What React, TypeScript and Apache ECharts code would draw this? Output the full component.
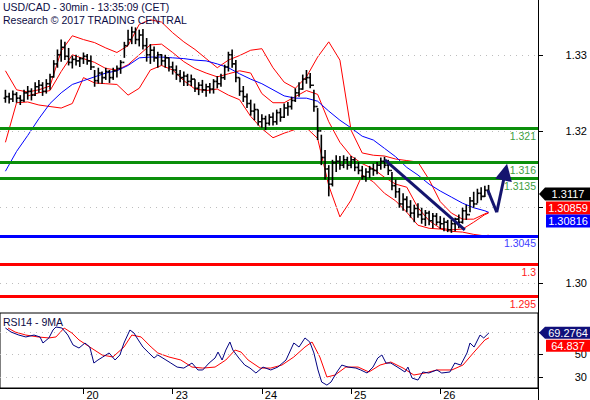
import React, { useEffect, useRef } from "react";
import * as echarts from "echarts";

const FONT = "'Liberation Sans', Arial, Helvetica, sans-serif";

// ---- Axis / ticks (x = hours from Oct 20 00:00, weekend removed) ----
const xMin = -22.46;
const xMax = 122.3;
const dayTicks = [0, 24, 48, 72, 96];
const dayLabels = ["20", "23", "24", "25", "26"];
const priceTicks = [1.3, 1.31, 1.32, 1.33];
const priceLabelTicks = [1.3, 1.32, 1.33]; // 1.31 sits under the value boxes
const rsiTicks = [30, 50, 70];
const rsiLabelTicks = [30, 50]; // 70 sits under the RSI value box

// ---- Hourly bars (first bar at hour -21) ----
const firstBarHour = -21;
const firstOpen = 1.3243;
const lows = [
  1.3237, 1.3236, 1.3238, 1.3237, 1.3234, 1.3238, 1.3241, 1.324, 1.3246, 1.325,
  1.3246, 1.3249, 1.3254, 1.327, 1.3283, 1.3291, 1.3293, 1.3286, 1.3282, 1.3286,
  1.3284, 1.3288, 1.3287, 1.328, 1.3258, 1.3262, 1.3262, 1.3267, 1.3263, 1.3267,
  1.327, 1.3275, 1.3296, 1.3313, 1.3314, 1.3314, 1.3311, 1.3307, 1.3291, 1.3288,
  1.3291, 1.3283, 1.3286, 1.3283, 1.3278, 1.3274, 1.3267, 1.3264, 1.3259, 1.3259,
  1.3259, 1.3251, 1.3247, 1.325, 1.3245, 1.3249, 1.3249, 1.3256, 1.3258, 1.3267,
  1.3278, 1.3283, 1.3264, 1.3246, 1.3238, 1.323, 1.322, 1.3214, 1.3207, 1.3204,
  1.3201, 1.3207, 1.3207, 1.3208, 1.3212, 1.3217, 1.322, 1.3228, 1.3238, 1.3245,
  1.3254, 1.3262, 1.3256, 1.3225, 1.3188, 1.3155, 1.3136, 1.3114, 1.3127, 1.3146,
  1.3149, 1.3151, 1.3149, 1.3151, 1.3147, 1.3143, 1.3136, 1.3133, 1.3138, 1.3141,
  1.3143, 1.3149, 1.3151, 1.3142, 1.3122, 1.3112, 1.3099, 1.3095, 1.3093, 1.3086,
  1.308, 1.3086, 1.3078, 1.3075, 1.3076, 1.3072, 1.3076, 1.3071, 1.3068, 1.3067,
  1.3066, 1.3068, 1.3072, 1.3078, 1.3083, 1.3093, 1.3099, 1.3105, 1.3109, 1.3113,
  1.3116,
];
const highs = [
  1.3254, 1.325, 1.3253, 1.3251, 1.3247, 1.3254, 1.3259, 1.3256, 1.3264, 1.3267,
  1.3264, 1.3268, 1.3275, 1.3293, 1.3307, 1.332, 1.3317, 1.3309, 1.3299, 1.33,
  1.3297, 1.3303, 1.3301, 1.3299, 1.328, 1.3283, 1.3278, 1.3283, 1.328, 1.3283,
  1.3286, 1.3293, 1.3317, 1.3333, 1.3337, 1.3336, 1.3333, 1.3334, 1.3322, 1.3314,
  1.3311, 1.3304, 1.3301, 1.33, 1.3296, 1.3291, 1.3286, 1.328, 1.3278, 1.3275,
  1.3274, 1.3268, 1.3264, 1.3267, 1.3262, 1.3263, 1.3268, 1.3272, 1.3275, 1.3287,
  1.3304, 1.3307, 1.3293, 1.327, 1.3259, 1.3249, 1.3241, 1.3236, 1.3228, 1.3222,
  1.322, 1.3222, 1.3224, 1.3228, 1.323, 1.3236, 1.3238, 1.3245, 1.3256, 1.3264,
  1.3274, 1.328, 1.3276, 1.3254, 1.323, 1.3195, 1.3175, 1.3155, 1.3162, 1.3168,
  1.3167, 1.3168, 1.3166, 1.3167, 1.3165, 1.3159, 1.3154, 1.3151, 1.3154, 1.3157,
  1.3159, 1.3165, 1.3166, 1.3162, 1.3146, 1.3136, 1.3125, 1.3118, 1.3114, 1.3109,
  1.3103, 1.3105, 1.3099, 1.3096, 1.3095, 1.3092, 1.3092, 1.3088, 1.3086, 1.3083,
  1.3083, 1.3086, 1.309, 1.3099, 1.3103, 1.3113, 1.312, 1.3124, 1.3126, 1.3128,
  1.3129,
];
const closes = [
  1.3245, 1.3242, 1.3248, 1.3243, 1.324, 1.325, 1.3252, 1.3247, 1.3258, 1.326,
  1.3252, 1.3262, 1.3271, 1.3288, 1.33, 1.331, 1.3298, 1.329, 1.3294, 1.3292,
  1.3295, 1.3298, 1.3292, 1.3284, 1.3266, 1.3276, 1.327, 1.3278, 1.327, 1.3279,
  1.3282, 1.329, 1.3312, 1.332, 1.333, 1.332, 1.3326, 1.3312, 1.33, 1.3306,
  1.3296, 1.33, 1.3292, 1.3296, 1.3284, 1.328, 1.3274, 1.327, 1.3272, 1.3265,
  1.3268, 1.3256, 1.326, 1.3254, 1.3258, 1.3255, 1.3265, 1.3262, 1.327, 1.3284,
  1.33, 1.3288, 1.327, 1.3252, 1.3245, 1.3236, 1.3226, 1.3228, 1.3212, 1.3216,
  1.321, 1.3218, 1.3212, 1.3224, 1.3218, 1.323, 1.3232, 1.324, 1.325, 1.3255,
  1.3268, 1.327, 1.326, 1.3232, 1.32, 1.3165, 1.315, 1.313, 1.3158, 1.316,
  1.3155, 1.3162, 1.3155, 1.3162, 1.3152, 1.3148, 1.314, 1.3146, 1.315, 1.3148,
  1.3155, 1.316, 1.3155, 1.3148, 1.3128, 1.312, 1.3104, 1.311, 1.31, 1.3092,
  1.3098, 1.309, 1.3084, 1.3092, 1.3082, 1.3088, 1.308, 1.3078, 1.308, 1.307,
  1.3078, 1.3084, 1.308, 1.3095, 1.309, 1.3108, 1.3104, 1.3118, 1.3114, 1.3122,
  1.3117,
];

// ---- Indicator lines sampled every 3 hours ----
const bandHours = [
  -21, -18, -15, -12, -9, -6, -3, 0, 3, 6, 9, 12, 15, 18, 21, 24, 27, 30, 33, 36,
  39, 42, 45, 48, 51, 54, 57, 60, 63, 66, 69, 72, 75, 78, 81, 84, 87, 90, 93, 96,
  99, 102, 105, 108, 109,
];
const bbUpper = [
  1.3279, 1.3254, 1.3251, 1.3254, 1.3259, 1.3305, 1.3325, 1.332, 1.3316, 1.3309,
  1.3303, 1.3312, 1.334, 1.3346, 1.3343, 1.3329, 1.3317, 1.3307, 1.3295, 1.3283,
  1.3293, 1.3299, 1.3306, 1.3308, 1.3283, 1.3264, 1.3256, 1.3271, 1.3297, 1.3317,
  1.3293, 1.3201, 1.3171, 1.3168, 1.3167, 1.3163, 1.3161, 1.3159, 1.3136, 1.3107,
  1.3092, 1.3084, 1.3084, 1.3091, 1.3093,
];
const bbMiddle = [
  null, null, 1.3246, 1.325, 1.3253, 1.3278, 1.33, 1.3295, 1.329, 1.3282,
  1.328, 1.3287, 1.33, 1.3313, 1.3314, 1.3303, 1.3291, 1.3282, 1.3276, 1.3271,
  1.3275, 1.3279, 1.3276, 1.3249, 1.3237, 1.3237, 1.3245, 1.3253, 1.3248, 1.3212,
  1.3185, 1.3167, 1.3157, 1.315, 1.3139, 1.313, 1.3126, 1.3099, 1.3082, 1.3072,
  1.307, 1.3071, 1.308, 1.309, 1.3092,
];
const bbLower = [
  1.3185, 1.3237, 1.3238, 1.3234, 1.3232, 1.323, 1.3236, 1.327, 1.3263, 1.3262,
  1.3261, 1.3247, 1.3256, 1.328, 1.3286, 1.328, 1.3266, 1.3255, 1.3253, 1.3255,
  1.3247, 1.3241, 1.3219, 1.3203, 1.3191, 1.3197, 1.3202, 1.3204, 1.319, 1.3128,
  1.3087, 1.3109, 1.3142, 1.3133, 1.3118, 1.3108, 1.3093, 1.3076, 1.3072, 1.3071,
  1.3068, 1.3067, 1.3064, 1.3062, 1.3063,
];
const maBlue = [
  1.3147, 1.3173, 1.3194, 1.3216, 1.3236, 1.325, 1.3261, 1.3266, 1.3271, 1.3276,
  1.3279, 1.3286, 1.3296, 1.3297, 1.3297, 1.3296, 1.3295, 1.3293, 1.3292, 1.3288,
  1.3283, 1.3275, 1.3268, 1.3262, 1.3254, 1.3246, 1.3243, 1.3243, 1.3239, 1.3226,
  1.3214, 1.3204, 1.3193, 1.3188, 1.3177, 1.3166, 1.3152, 1.3142, 1.313, 1.3121,
  1.3113, 1.3105, 1.3099, 1.3095, 1.3093,
];

// ---- Support / resistance levels (drawn value, printed label) ----
const levelValues = [1.3203, 1.3159, 1.3138, 1.3062, 1.3025, 1.2983];
const levelLabels = ["1.321", "1.316", "1.3135", "1.3045", "1.3", "1.295"];
const levelKinds = ["green", "green", "green", "blue", "red", "red"];

// ---- Drawn annotations ----
const trendLine = [
  [81.1, 1.3162],
  [102.6, 1.307],
];
const forecastPath = [
  [108.8, 1.3122],
  [111.2, 1.3093],
  [113.5, 1.3146],
];

// ---- Last values ----
const lastPrice = 1.3117;
const lastBandMid = 1.30859;
const lastMaBlue = 1.30816;
const lastRsi = 69.2764;
const lastRsiMa = 64.837;

// ---- RSI panel ----
const rsiHours = [
  -21, -19.5, -17.4, -15.5, -13.3, -11.7, -10.9, -9.3, -8.2, -7.4, -5.8, -4.2, -2.8,
  -1.2, 0.4, 1.7, 2.8, 3.9, 5.2, 6.9, 8.5, 9.8, 10.9, 12.5, 13.6, 14.4, 16, 17.6,
  19, 20, 22.2, 23.5, 25.2, 27, 29.2, 30.8, 32.1, 33.8, 35.4, 36.2, 37.3, 38.3,
  39.4, 40.2, 41.8, 43.4, 44.8, 46.4, 48.3, 50.4, 52.3, 54.5, 56.6, 58, 59.6,
  60.9, 62, 63.1, 64.1, 65.5, 66.6, 68.2, 69.5, 71.2, 73.3, 74.6, 76.3, 77.9,
  79.2, 80.3, 81.4, 82.7, 84.9, 86.5, 87.3, 88.4, 90, 91.3, 92.9, 95.1, 96.4,
  98.6, 99.9, 101.5, 103.2, 104, 105.1, 106.7, 107.7, 109.1,
];
const rsiValues = [
  73.6, 70, 67.3, 65.6, 67.3, 65.6, 60.2, 64.7, 71.8, 74.5, 73.6, 67.3, 58.4,
  55.7, 60.2, 56.6, 42.3, 45, 47.7, 51.3, 45, 49.5, 60.2, 71.8, 69.1, 64.7, 56.6,
  51.3, 46.8, 49.5, 45, 42.3, 38.7, 37.8, 42.3, 36.1, 36.1, 42.3, 46.8, 52.1, 45,
  53.9, 61.1, 53.9, 46.8, 40.5, 37.8, 33.4, 38.7, 36.1, 38.7, 45, 60.2, 56.6,
  64.7, 61.1, 51.3, 36.1, 25.3, 22.6, 25.3, 34.3, 40.5, 38.7, 37.8, 36.1, 33.4,
  38.7, 46.8, 49.5, 42.3, 42.3, 37.8, 34.3, 38.7, 28.9, 27.1, 34.3, 33.4, 36.1,
  33.4, 34.3, 42.3, 40.5, 51.3, 60.2, 56.6, 67.3, 64.7, 69.2764,
];
const rsiMaHours = [
  -20.3, -18.4, -15.5, -12.2, -9.3, -7.4, -5.2, -3.1, -1.2, 1.7, 5, 7.9, 10.9, 13,
  15.5, 18.2, 20, 23, 26.2, 29.2, 32.1, 35.4, 38.3, 40.8, 42.4, 44.3, 47.5, 50.4,
  53.4, 56.6, 59.6, 61.5, 63.6, 65.5, 67.7, 70.6, 73.9, 76.8, 79.8, 82.7, 86,
  88.9, 91.9, 95.1, 99.1, 102.1, 105.1, 108, 109.1,
];
const rsiMaValues = [
  73.6, 70, 67.3, 65.6, 64.7, 65.6, 73.6, 69.1, 62.9, 56.6, 49.5, 47.7, 56.6, 67.3,
  65.6, 56.6, 51.3, 47.7, 45, 38.7, 37.8, 38.7, 45, 53.9, 52.1, 45, 37.8, 37.8,
  40.5, 47.7, 56.6, 61.1, 47.7, 29.8, 31.6, 38.7, 38.7, 34.3, 40.5, 43.2, 37.8,
  31.6, 33.4, 36.1, 36.1, 40.5, 52.1, 62.9, 64.837,
];

const NAVY = "#14146e";
const TEXT = "#0b0b45";
const levelColors: Record<string, { line: string; text: string }> = {
  green: { line: "#0a8f0a", text: "#3e9e3e" },
  blue: { line: "#0000ff", text: "#4040ff" },
  red: { line: "#ff0000", text: "#ff2020" },
};

function zip(xs: number[], ys: (number | null)[]) {
  const out: number[][] = [];
  xs.forEach((x, i) => {
    const y = ys[i];
    if (y !== null && y !== undefined) out.push([x, y]);
  });
  return out;
}

function buildOption() {
  const barRows = lows.map((lo, i) => {
    const open = i === 0 ? firstOpen : closes[i - 1];
    return [firstBarHour + i, open, closes[i], lo, highs[i]];
  });

  const axisLabelBase = { color: "#000", fontSize: 11, fontFamily: FONT };

  return {
    animation: false,
    backgroundColor: "#ffffff",
    textStyle: { fontFamily: FONT },
    grid: [
      { left: 0, right: 52, top: 0, height: 312, show: false },
      {
        left: 0,
        right: 52,
        top: 313,
        height: 75,
        show: true,
        borderColor: "#000",
        borderWidth: 1,
        backgroundColor: "transparent",
      },
    ],
    xAxis: [
      { gridIndex: 0, type: "value", min: xMin, max: xMax, show: false },
      {
        gridIndex: 1,
        type: "value",
        min: xMin,
        max: xMax,
        axisLine: { show: true, onZero: false, lineStyle: { color: "#000", width: 1 } },
        axisTick: { show: true, customValues: dayTicks, length: 6, lineStyle: { color: "#000" } },
        axisLabel: {
          ...axisLabelBase,
          customValues: dayTicks,
          formatter: (v: number) => dayLabels[dayTicks.indexOf(v)] ?? "",
          align: "left",
          padding: [0, 0, 0, 3],
          margin: 1,
        },
        splitLine: { show: false },
      },
    ],
    yAxis: [
      {
        gridIndex: 0,
        type: "value",
        position: "right",
        min: 1.2962,
        max: 1.3372,
        axisLine: { show: true, onZero: false, lineStyle: { color: "#000" } },
        axisTick: { show: true, customValues: priceTicks, length: 5, lineStyle: { color: "#000" } },
        axisLabel: {
          ...axisLabelBase,
          customValues: priceLabelTicks,
          formatter: (v: number) => v.toFixed(2),
          align: "right",
          margin: 49,
        },
        splitLine: { show: false },
      },
      {
        gridIndex: 1,
        type: "value",
        position: "right",
        min: 20,
        max: 87,
        axisLine: { show: true, onZero: false, lineStyle: { color: "#000" } },
        axisTick: { show: true, customValues: rsiTicks, length: 5, lineStyle: { color: "#000" } },
        axisLabel: {
          ...axisLabelBase,
          customValues: rsiLabelTicks,
          formatter: (v: number) => String(v),
          align: "right",
          margin: 49,
        },
        splitLine: { show: false },
      },
    ],
    series: [
      {
        type: "line",
        xAxisIndex: 0,
        yAxisIndex: 0,
        data: [],
        silent: true,
        markLine: {
          silent: true,
          precision: 6,
          symbol: ["none", "none"],
          label: { show: false },
          lineStyle: { color: "#bdbdbd", type: [1, 5], width: 1 },
          data: priceTicks.map((v) => ({ yAxis: v })),
        },
      },
      {
        type: "line",
        xAxisIndex: 1,
        yAxisIndex: 1,
        data: [],
        silent: true,
        markLine: {
          silent: true,
          precision: 6,
          symbol: ["none", "none"],
          label: { show: false },
          lineStyle: { color: "#bdbdbd", type: [1, 5], width: 1 },
          data: rsiTicks.map((v) => ({ yAxis: v })),
        },
      },
      {
        type: "line",
        xAxisIndex: 0,
        yAxisIndex: 0,
        data: [],
        silent: true,
        z: 3,
        markLine: {
          silent: true,
          precision: 6,
          symbol: ["none", "none"],
          data: levelValues.map((v, i) => ({
            yAxis: v,
            lineStyle: { color: levelColors[levelKinds[i]].line, width: 3, type: "solid" },
            label: {
              show: true,
              formatter: levelLabels[i],
              position: "insideEndBottom",
              distance: [2, 2],
              color: levelColors[levelKinds[i]].text,
              fontSize: 10.5,
              fontFamily: FONT,
            },
          })),
        },
      },
      {
        type: "line",
        xAxisIndex: 0,
        yAxisIndex: 0,
        data: zip(bandHours, bbUpper),
        showSymbol: false,
        lineStyle: { color: "#ff0000", width: 1 },
        z: 4,
      },
      {
        type: "line",
        xAxisIndex: 0,
        yAxisIndex: 0,
        data: zip(bandHours, bbMiddle),
        showSymbol: false,
        lineStyle: { color: "#ff0000", width: 1 },
        z: 4,
      },
      {
        type: "line",
        xAxisIndex: 0,
        yAxisIndex: 0,
        data: zip(bandHours, bbLower),
        showSymbol: false,
        lineStyle: { color: "#ff0000", width: 1 },
        z: 4,
      },
      {
        type: "line",
        xAxisIndex: 0,
        yAxisIndex: 0,
        data: zip(bandHours, maBlue),
        showSymbol: false,
        lineStyle: { color: "#0000ff", width: 1 },
        z: 4,
      },
      {
        type: "custom",
        xAxisIndex: 0,
        yAxisIndex: 0,
        z: 5,
        encode: { x: 0, y: [3, 4] },
        data: barRows,
        renderItem: (params: any, api: any) => {
          const x = api.value(0);
          const lo = api.coord([x, api.value(3)]);
          const hi = api.coord([x, api.value(4)]);
          const op = api.coord([x, api.value(1)]);
          const cl = api.coord([x, api.value(2)]);
          const style = { stroke: "#000", lineWidth: 1.6 };
          return {
            type: "group",
            children: [
              { type: "line", shape: { x1: lo[0], y1: lo[1], x2: hi[0], y2: hi[1] }, style },
              { type: "line", shape: { x1: op[0] - 1.8, y1: op[1], x2: op[0], y2: op[1] }, style },
              { type: "line", shape: { x1: cl[0], y1: cl[1], x2: cl[0] + 1.8, y2: cl[1] }, style },
            ],
          };
        },
      },
      {
        type: "lines",
        coordinateSystem: "cartesian2d",
        xAxisIndex: 0,
        yAxisIndex: 0,
        z: 6,
        symbol: ["none", "none"],
        lineStyle: { color: NAVY, width: 3, opacity: 1, curveness: 0 },
        data: [
          { coords: trendLine },
          { coords: [forecastPath[0], forecastPath[1]] },
        ],
      },
      {
        type: "lines",
        coordinateSystem: "cartesian2d",
        xAxisIndex: 0,
        yAxisIndex: 0,
        z: 6,
        symbol: ["none", "triangle"],
        symbolSize: [12, 17],
        lineStyle: { color: NAVY, width: 3, opacity: 1, curveness: 0 },
        data: [{ coords: [forecastPath[1], forecastPath[2]] }],
      },
      {
        type: "line",
        xAxisIndex: 1,
        yAxisIndex: 1,
        data: zip(rsiMaHours, rsiMaValues),
        showSymbol: false,
        lineStyle: { color: "#ff0000", width: 1 },
        z: 4,
      },
      {
        type: "line",
        xAxisIndex: 1,
        yAxisIndex: 1,
        data: zip(rsiHours, rsiValues),
        showSymbol: false,
        lineStyle: { color: "#000080", width: 1 },
        z: 5,
      },
    ],
  };
}

function valueBox(id: string, yc: number, h: number, color: string, text: string, arrow: boolean) {
  const top = yc - h / 2;
  const bot = yc + h / 2;
  const pts = arrow
    ? [[539, yc], [545, top], [590, top], [590, bot], [545, bot]]
    : [[546, top], [590, top], [590, bot], [546, bot]];
  return [
    { type: "polygon", id: id + "-box", z: 100, shape: { points: pts }, style: { fill: color } },
    {
      type: "text",
      id: id + "-txt",
      z: 101,
      x: 568,
      y: yc,
      style: {
        text,
        fill: "#ffffff",
        fontSize: 11,
        fontFamily: FONT,
        align: "center",
        verticalAlign: "middle",
      },
    },
  ];
}

export default function App() {
  const ref = useRef<HTMLDivElement>(null);
  useEffect(() => {
    if (!ref.current) return;
    const chart = echarts.init(ref.current, null, { renderer: "svg" });
    chart.setOption(buildOption() as any);

    const py = (v: number) => chart.convertToPixel({ yAxisIndex: 0 } as any, v) as number;
    const ry = (v: number) => chart.convertToPixel({ yAxisIndex: 1 } as any, v) as number;

    const h = 13;
    const priceY = py(lastPrice);
    const blueY = py(lastMaBlue);
    const redY = Math.min(py(lastBandMid), blueY - h);
    const rsiY = ry(lastRsi);
    const rh = 12;
    const rsiMaY = Math.max(ry(lastRsiMa), rsiY + rh + 1);

    const graphics: any[] = [
      {
        type: "text",
        id: "title1",
        left: 3,
        top: 1,
        z: 100,
        style: { text: "USD/CAD - 30min - 13:35:09 (CET)", fill: TEXT, fontSize: 10.5, fontFamily: FONT },
      },
      {
        type: "text",
        id: "title2",
        left: 3,
        top: 14,
        z: 100,
        style: { text: "Research © 2017 TRADING CENTRAL", fill: TEXT, fontSize: 10.5, fontFamily: FONT },
      },
      {
        type: "text",
        id: "rsiTitle",
        left: 3,
        top: 316,
        z: 100,
        style: { text: "RSI14 - 9MA", fill: TEXT, fontSize: 10.5, fontFamily: FONT },
      },
      {
        type: "line",
        id: "axisRule",
        z: 50,
        shape: { x1: 538.5, y1: 0, x2: 538.5, y2: 400 },
        style: { stroke: "#000", lineWidth: 1 },
      },
      ...valueBox("price", priceY, h, "#000000", lastPrice.toFixed(4), true),
      ...valueBox("mid", redY, h, "#ff0000", String(lastBandMid), false),
      ...valueBox("ma", blueY, h, "#0000ff", String(lastMaBlue), false),
      ...valueBox("rsi", rsiY, rh, "#10107a", String(lastRsi), true),
      ...valueBox("rsima", rsiMaY, rh, "#ff0000", String(lastRsiMa), false),
    ];
    chart.setOption({ graphic: graphics } as any);

    return () => chart.dispose();
  }, []);

  return (
    <div
      ref={ref}
      style={{ position: "absolute", left: 0, top: 0, width: 590, height: 400, background: "#fff" }}
    />
  );
}
